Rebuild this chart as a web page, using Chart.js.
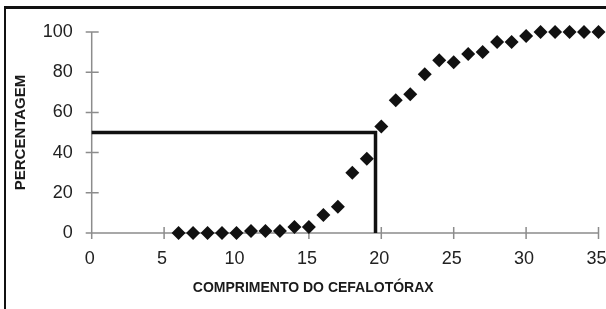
<!DOCTYPE html>
<html>
<head>
<meta charset="utf-8">
<script src="https://cdn.jsdelivr.net/npm/chart.js@4"></script>
<style>
  html, body { margin: 0; padding: 0; background: #fff; }
  #wrap { position: relative; width: 606px; height: 309px; overflow: hidden; }
  #frame {
    position: absolute; left: 4px; top: 6px; width: 610px; height: 300px;
    border-left: 2px solid #111; border-top: 3px solid #111; border-bottom: 1px solid #8a8a8a;
    pointer-events: none;
  }
</style>
</head>
<body>
<div id="wrap">
  <canvas id="chart" width="606" height="309"></canvas>
  <div id="frame"></div>
</div>
<script>
// cephalothorax length classes and % mature
const lengths = [6, 7, 8, 9, 10, 11, 12, 13, 14, 15, 16, 17, 18, 19, 20,
                 21, 22, 23, 24, 25, 26, 27, 28, 29, 30, 31, 32, 33, 34, 35];
const percentages = [0, 0, 0, 0, 0, 1, 1, 1, 3, 3, 9, 13, 30, 37, 53,
                     66, 69, 79, 86, 85, 89, 90, 95, 95, 98, 100, 100, 100, 100, 100];
const xTicks = [0, 5, 10, 15, 20, 25, 30, 35];
const yTicks = [0, 20, 40, 60, 80, 100];
// L50 guide line
const halfPercent = 50;
const halfLength = 19.6;

const xTitle = 'COMPRIMENTO DO CEFALOTÓRAX';
const yTitle = 'PERCENTAGEM';

const points = lengths.map((x, i) => ({ x, y: percentages[i] }));
const guide = [{ x: 0, y: halfPercent }, { x: halfLength, y: halfPercent }, { x: halfLength, y: 0 }];

Chart.defaults.font.family = "'Liberation Sans', Arial, sans-serif";
Chart.defaults.color = '#222';

// grey axis lines with tick marks crossing them, plus the x title
// (sits left of centre in the original, so drawn here instead of scale.title)
const crossAxes = {
  id: 'crossAxes',
  beforeDatasetsDraw(chart) {
    const { ctx, scales: { x, y } } = chart;
    const x0 = x.getPixelForValue(0), y0 = y.getPixelForValue(0);
    ctx.save();
    ctx.strokeStyle = '#8c8c8c';
    ctx.lineWidth = 1.5;
    ctx.beginPath();
    ctx.moveTo(x0, y.getPixelForValue(100));
    ctx.lineTo(x0, y0);
    ctx.moveTo(x0, y0);
    ctx.lineTo(x.getPixelForValue(35), y0);
    yTicks.forEach(v => {
      const py = y.getPixelForValue(v);
      ctx.moveTo(x0 - 6, py);
      ctx.lineTo(x0 + 7, py);
    });
    xTicks.forEach(v => {
      const px = x.getPixelForValue(v);
      ctx.moveTo(px, y0 - 6);
      ctx.lineTo(px, y0 + 6);
    });
    ctx.stroke();

    ctx.fillStyle = '#1a1a1a';
    ctx.font = "bold 14px 'Liberation Sans', Arial, sans-serif";
    ctx.textAlign = 'center';
    ctx.textBaseline = 'middle';
    ctx.fillText(xTitle, x.getPixelForValue(15.3), 288);
    ctx.restore();
  }
};

new Chart(document.getElementById('chart'), {
  type: 'scatter',
  data: {
    datasets: [
      {
        data: points,
        pointStyle: 'rectRot',
        pointRadius: 7,
        backgroundColor: '#111',
        borderColor: '#111',
        borderWidth: 0,
        clip: false,
      },
      {
        type: 'line',
        data: guide,
        borderColor: '#111',
        borderWidth: 3.5,
        pointRadius: 0,
        fill: false,
        tension: 0,
        clip: false,
      },
    ],
  },
  options: {
    responsive: false,
    animation: false,
    devicePixelRatio: 1,
    layout: { padding: { top: 32, right: 7.5, bottom: 0, left: 0 } },
    plugins: { legend: { display: false }, tooltip: { enabled: false } },
    scales: {
      x: {
        type: 'linear',
        min: 0,
        max: 35,
        afterBuildTicks: s => { s.ticks = xTicks.map(value => ({ value })); },
        afterFit: s => { s.height = 76; s.paddingLeft = 0; s.paddingRight = 0; },
        grid: { display: false, drawTicks: false },
        border: { display: false },
        ticks: { font: { size: 18 }, padding: 15, labelOffset: -2, maxRotation: 0, autoSkip: false },
      },
      y: {
        min: 0,
        max: 100,
        afterBuildTicks: s => { s.ticks = yTicks.map(value => ({ value })); },
        afterFit: s => { s.width = 91.7; s.paddingTop = 0; s.paddingBottom = 0; },
        grid: { display: false, drawTicks: false },
        border: { display: false },
        ticks: { font: { size: 18 }, padding: 19 },
        title: {
          display: true,
          text: yTitle,
          color: '#1a1a1a',
          font: { size: 15, weight: 'bold' },
          padding: { top: 12, bottom: 0 },
        },
      },
    },
  },
  plugins: [crossAxes],
});
</script>
</body>
</html>
